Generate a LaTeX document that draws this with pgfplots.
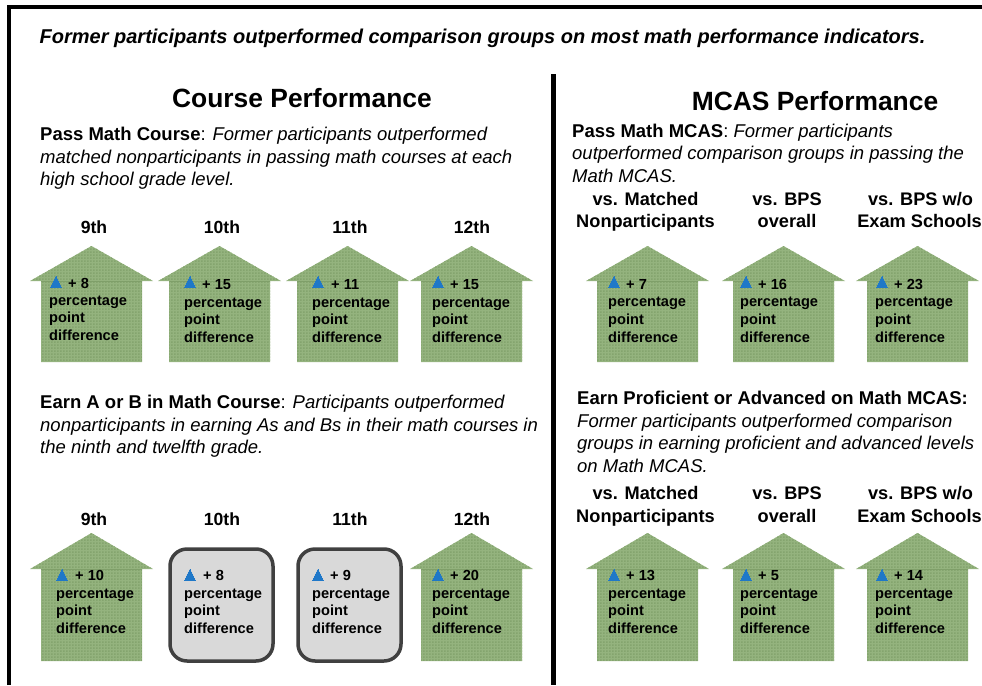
\documentclass[border=0pt]{standalone}
\usepackage{fontspec}
\setmainfont{Liberation Sans}
\usepackage{pgfplots}
\usetikzlibrary{patterns}
\pgfplotsset{compat=1.18}
\definecolor{housegreen}{HTML}{94B37E}
\definecolor{housedot}{HTML}{84A46E}
\definecolor{houseline}{HTML}{7F9F69}
\definecolor{boxgray}{HTML}{D9D9D9}
\definecolor{boxline}{HTML}{404040}
\definecolor{triblue}{HTML}{1F78C8}
\pgfdeclarepatternformonly{fine}{\pgfqpoint{0pt}{0pt}}{\pgfqpoint{1.5pt}{1.5pt}}{\pgfqpoint{3pt}{3pt}}{%
  \pgfpathrectangle{\pgfqpoint{0pt}{0pt}}{\pgfqpoint{1.5pt}{1.5pt}}%
  \pgfpathrectangle{\pgfqpoint{1.5pt}{1.5pt}}{\pgfqpoint{1.5pt}{1.5pt}}%
  \pgfusepath{fill}}
% body left x; apex y; eave y; bottom y
\newcommand{\house}[4]{%
  \pgfmathsetmacro{\a}{#1-11}\pgfmathsetmacro{\b}{#1}\pgfmathsetmacro{\c}{#1+50.5}\pgfmathsetmacro{\d}{#1+101}\pgfmathsetmacro{\e}{#1+112}%
  \edef\tmp{\noexpand\addplot[fill=housegreen,draw=none,forget plot] coordinates {(\a,#3) (\c,#2) (\e,#3) (\d,#3) (\d,#4) (\b,#4) (\b,#3)} --cycle;
  \noexpand\addplot[pattern=fine,pattern color=housedot,draw=none,forget plot] coordinates {(\a,#3) (\c,#2) (\e,#3) (\d,#3) (\d,#4) (\b,#4) (\b,#3)} --cycle;
  \noexpand\addplot[draw=houseline,line width=0.7pt,forget plot] coordinates {(\b,#3) (\d,#3)};}\tmp}
\newcommand{\rbox}[4]{%
  \draw[fill=boxgray,draw=boxline,line width=3.5pt,rounded corners=17pt] (axis cs:#1,#3) rectangle (axis cs:#2,#4);}
\newcommand{\lbl}[8]{%
  \addplot[only marks,color=triblue,mark=triangle*,mark size=6.5pt,mark options={fill=triblue,draw=triblue,line width=0pt,yscale=1.19},forget plot] coordinates {(#2,#4)};
  \node[anchor=base west,inner sep=0pt,font=\fontsize{14.6}{14.6}\selectfont\bfseries] at (axis cs:#3,#5) {+ #8};
  \node[anchor=base west,inner sep=0pt,font=\fontsize{14.6}{14.6}\selectfont\bfseries] at (axis cs:#1,#6) {percentage};
  \node[anchor=base west,inner sep=0pt,font=\fontsize{14.6}{14.6}\selectfont\bfseries] at (axis cs:#1,#7) {point};
  \pgfmathsetmacro{\dy}{#7+18}
  \edef\tmp{\noexpand\node[anchor=base west,inner sep=0pt,font=\noexpand\fontsize{14.6}{14.6}\noexpand\selectfont\noexpand\bfseries] at (axis cs:#1,\dy) {difference};}\tmp}
\newcommand{\txt}[3]{\node[anchor=base west,inner sep=0pt,font=\fontsize{18.5}{18.5}\selectfont] at (axis cs:#1,#2) {#3};}
\newcommand{\hd}[3]{\node[anchor=base,inner sep=0pt,font=\fontsize{17.6}{17.6}\selectfont\bfseries] at (axis cs:#1,#2) {#3};}
\newcommand{\hdb}[3]{\node[anchor=base,inner sep=0pt,font=\fontsize{18.2}{18.2}\selectfont\bfseries] at (axis cs:#1,#2) {#3};}
\begin{document}
\begin{tikzpicture}
\path[use as bounding box] (0,0) rectangle (982pt,685pt);
\begin{axis}[
  scale only axis,width=982pt,height=685pt,
  xmin=0,xmax=982,ymin=0,ymax=685,y dir=reverse,
  axis lines=none,clip=true,
]
% frame
\addplot[draw=black,line width=4pt,forget plot] coordinates {(9,685) (9,7) (982,7)};
\addplot[draw=black,line width=4.3pt,forget plot] coordinates {(553.5,74) (553.5,685)};
% title
\node[anchor=base west,inner sep=0pt,font=\fontsize{20}{20}\selectfont\bfseries\itshape] at (axis cs:39.5,44) {Former participants outperformed comparison groups on most math performance indicators.};
\node[anchor=base,inner sep=0pt,font=\fontsize{26.4}{26.4}\selectfont\bfseries] at (axis cs:302,107) {Course Performance};
\node[anchor=base,inner sep=0pt,font=\fontsize{26.4}{26.4}\selectfont\bfseries] at (axis cs:815,110) {MCAS Performance};
% left text
\txt{40}{140}{\textbf{Pass Math Course}: \itshape Former participants outperformed}
\txt{40}{163}{\itshape matched nonparticipants in passing math courses at each}
\txt{40}{185}{\itshape high school grade level.}
\txt{40}{408}{\textbf{Earn A or B in Math Course}: \itshape Participants outperformed}
\txt{40}{431}{\itshape nonparticipants in earning As and Bs in their math courses in}
\txt{40}{453}{\itshape the ninth and twelfth grade.}
\hd{94}{233}{9th}\hd{222}{233}{10th}\hd{350}{233}{11th}\hd{472}{233}{12th}
\hd{94}{525}{9th}\hd{222}{525}{10th}\hd{350}{525}{11th}\hd{472}{525}{12th}
% right text
\txt{572}{137}{\textbf{Pass Math MCAS}: \itshape Former participants}
\txt{572}{159}{\itshape outperformed comparison groups in passing the}
\txt{572}{182}{\itshape Math MCAS.}
\txt{577}{404}{\textbf{Earn Proficient or Advanced on Math MCAS:}}
\txt{577}{427}{\itshape Former participants outperformed comparison}
\txt{577}{449}{\itshape groups in earning proficient and advanced levels}
\txt{577}{472}{\itshape on Math MCAS.}
\hdb{645.5}{205}{vs. Matched}\hdb{645.5}{227}{Nonparticipants}
\hdb{787}{205}{vs. BPS}\hdb{787}{227}{overall}
\hdb{920.5}{205}{vs. BPS w/o}\hdb{919.5}{227}{Exam Schools}
\hdb{645.5}{499}{vs. Matched}\hdb{645.5}{522}{Nonparticipants}
\hdb{787}{499}{vs. BPS}\hdb{787}{522}{overall}
\hdb{920.5}{499}{vs. BPS w/o}\hdb{919.5}{522}{Exam Schools}
% left row 1
\house{41}{246}{281}{362}\house{169}{246}{281}{362}\house{297}{246}{281}{362}\house{421}{246}{281}{362}
\lbl{49}{56}{68}{284}{288}{305}{322}{8}
\lbl{184}{190}{202}{284}{289}{307}{324}{15}
\lbl{312}{318}{331}{284}{289}{307}{324}{11}
\lbl{432}{438}{450}{284}{289}{307}{324}{15}
% left row 2
\house{41}{533}{569}{661}\house{421}{533}{569}{661}
\rbox{170}{273}{549}{661}\rbox{298}{401}{549}{661}
\lbl{56}{62}{75}{577}{580}{598}{615}{10}
\lbl{184}{190}{203}{577}{580}{598}{615}{8}
\lbl{312}{318}{330}{577}{580}{598}{615}{9}
\lbl{432}{438}{450}{577}{580}{598}{615}{20}
% right row 1
\house{597}{246}{281}{362}\house{733}{246}{281}{362}\house{867}{246}{281}{362}
\lbl{608}{614}{626}{284}{289}{306}{324}{7}
\lbl{740}{746}{758}{284}{289}{306}{324}{16}
\lbl{875}{882}{894}{284}{289}{306}{324}{23}
% right row 2
\house{597}{533}{569}{661}\house{733}{533}{569}{661}\house{867}{533}{569}{661}
\lbl{608}{614}{626}{577}{580}{598}{615}{13}
\lbl{740}{746}{758}{577}{580}{598}{615}{5}
\lbl{875}{882}{894}{577}{580}{598}{615}{14}
\end{axis}
\end{tikzpicture}
\end{document}
